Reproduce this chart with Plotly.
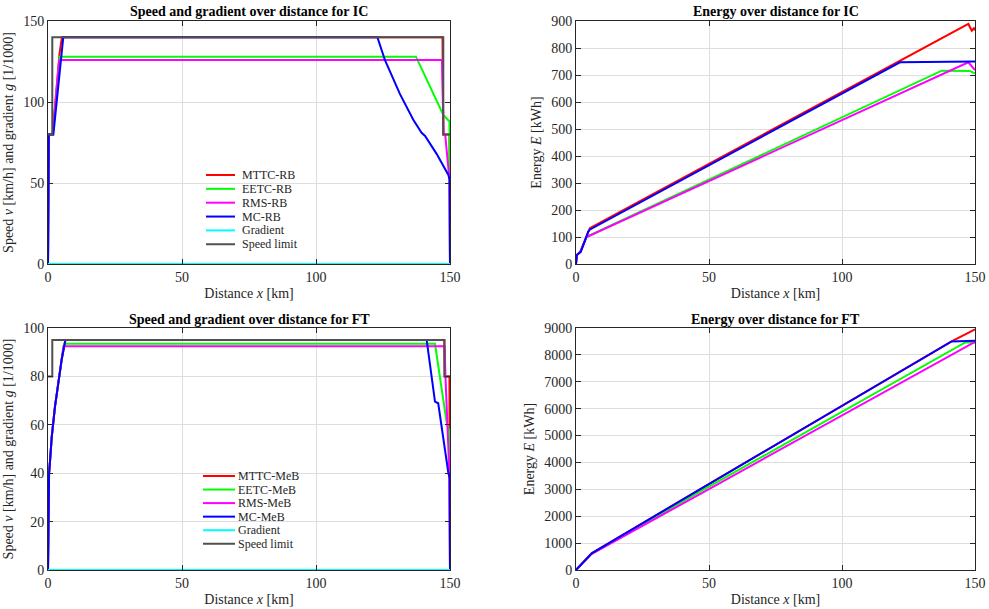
import plotly.graph_objects as go

# ---------------- data ----------------
# IC: speed profiles [km] / [km/h]
ic_lim_x = [0, 1.6, 1.6, 147.5, 147.5, 150]
ic_lim_v = [80, 80, 140, 140, 80, 80]
ic_mttc_x = [0, 0.05, 0.15, 0.3, 1.7, 3.0, 4.3, 5.2, 147.2, 147.5, 149.8, 150]
ic_mttc_v = [0, 40, 62, 80, 80, 108, 130, 140, 140, 80, 80, 0]
ic_eetc_x = [0, 0.05, 0.15, 0.3, 1.8, 3.0, 4.0, 4.3, 137.3, 147.5, 149.8, 150]
ic_eetc_v = [0, 40, 62, 80, 80, 105, 124, 128, 128, 92, 88, 0]
ic_rms_x = [0, 0.05, 0.15, 0.3, 1.8, 3.0, 4.2, 147.0, 147.6, 148.2, 149.8, 150]
ic_rms_v = [0, 40, 62, 80, 80, 105, 126, 126, 80, 80, 52, 0]
ic_mc_x = [0, 0.05, 0.15, 0.3, 2.0, 3.5, 5.0, 5.7, 122.9, 125.7, 131.3, 136.3, 139.4, 140.7, 145.0, 149.4, 149.9, 150]
ic_mc_v = [0, 40, 62, 80, 80, 105, 128, 140, 140, 126, 105, 89, 81, 79, 68, 55, 52, 0]
grad_x = [0, 150]
grad_g = [0, 0]

# IC: energy [kWh]
ic_mttc_ex = [0, 0.3, 1.6, 4.4, 5.2, 147.5, 148.8, 149.6, 150]
ic_mttc_e = [0, 33, 45, 118, 133, 889, 864, 873, 866]
ic_eetc_ex = [0, 0.3, 1.6, 4.0, 137.5, 148.0, 150]
ic_eetc_e = [0, 33, 45, 101, 716, 715, 706]
ic_rms_ex = [0, 0.3, 1.6, 4.0, 147.5, 148.8, 150]
ic_rms_e = [0, 33, 45, 100, 747, 731, 718]
ic_mc_ex = [0, 0.3, 1.8, 4.6, 5.3, 121.8, 140.6, 150]
ic_mc_e = [0, 33, 45, 120, 128, 747, 749, 750]

# FT: speed profiles
ft_lim_x = [0, 1.6, 1.6, 147.9, 147.9, 150]
ft_lim_v = [80, 80, 95, 95, 80, 80]
ft_mttc_x = [0, 0.1, 0.4, 0.75, 1.4, 2.6, 3.8, 5.1, 6.5, 147.9, 148.1, 149.8, 150]
ft_mttc_v = [0, 28, 40, 45, 55, 67.5, 77, 87, 95, 95, 80, 80, 0]
ft_eetc_x = [0, 0.1, 0.4, 0.75, 1.4, 2.6, 3.8, 5.1, 6.0, 144.4, 148.8, 149.9, 150]
ft_eetc_v = [0, 28, 40, 45, 55, 67.5, 77, 87, 93.5, 93.5, 60.6, 57, 0]
ft_rms_x = [0, 0.1, 0.4, 0.75, 1.4, 2.6, 3.8, 5.1, 5.8, 148.0, 148.3, 149.7, 150]
ft_rms_v = [0, 28, 40, 45, 55, 67.5, 77, 87, 92.5, 92.5, 80, 42, 0]
ft_mc_x = [0, 0.1, 0.4, 0.75, 1.4, 2.6, 3.8, 5.1, 6.5, 141.3, 144.4, 145.6, 149.4, 149.9, 150]
ft_mc_v = [0, 28, 40, 45, 55, 67.5, 77, 87, 95, 95, 69.6, 68.9, 40, 38, 0]

# FT: energy
ft_mttc_ex = [0, 5.9, 46.6, 141.2, 150]
ft_mttc_e = [0, 621, 3000, 8500, 8950]
ft_eetc_ex = [0, 5.8, 46.6, 146.5, 150]
ft_eetc_e = [0, 600, 2913, 8470, 8450]
ft_rms_ex = [0, 5.8, 46.6, 150]
ft_rms_e = [0, 590, 2826, 8480]
ft_mc_ex = [0, 5.9, 46.6, 141.2, 150]
ft_mc_e = [0, 621, 3000, 8500, 8530]

ic_names = ["MTTC-RB", "EETC-RB", "RMS-RB", "MC-RB", "Gradient", "Speed limit"]
ft_names = ["MTTC-MeB", "EETC-MeB", "RMS-MeB", "MC-MeB", "Gradient", "Speed limit"]
titles = ["Speed and gradient over distance for IC", "Energy over distance for IC",
          "Speed and gradient over distance for FT", "Energy over distance for FT"]

# ---------------- styling ----------------
W, H = 989, 609
colors = ["#ff0000", "#00ff00", "#ff00ff", "#0000ff", "#00ffff", "#505050"]
FONT = "Liberation Serif, Times New Roman, serif"
TXT = "#262626"

def px(x):
    return x / W

def py(y):
    return 1 - y / H

xdom_left = [px(48), px(450)]
xdom_right = [px(576), px(975)]
ydom_top = [py(264), py(21)]
ydom_bot = [py(570), py(328)]

fig = go.Figure()

def add(xa, ya, x, y, col):
    fig.add_trace(go.Scatter(x=x, y=y, mode="lines", xaxis=xa, yaxis=ya,
                             line=dict(color=col, width=2), showlegend=False,
                             hoverinfo="skip"))

for (x, y), c in zip([(ic_mttc_x, ic_mttc_v), (ic_eetc_x, ic_eetc_v), (ic_rms_x, ic_rms_v),
                      (ic_mc_x, ic_mc_v), (grad_x, grad_g), (ic_lim_x, ic_lim_v)], colors):
    add("x", "y", x, y, c)
for (x, y), c in zip([(ic_mttc_ex, ic_mttc_e), (ic_eetc_ex, ic_eetc_e), (ic_rms_ex, ic_rms_e),
                      (ic_mc_ex, ic_mc_e)], colors):
    add("x2", "y2", x, y, c)
for (x, y), c in zip([(ft_mttc_x, ft_mttc_v), (ft_eetc_x, ft_eetc_v), (ft_rms_x, ft_rms_v),
                      (ft_mc_x, ft_mc_v), (grad_x, grad_g), (ft_lim_x, ft_lim_v)], colors):
    add("x3", "y3", x, y, c)
for (x, y), c in zip([(ft_mttc_ex, ft_mttc_e), (ft_eetc_ex, ft_eetc_e), (ft_rms_ex, ft_rms_e),
                      (ft_mc_ex, ft_mc_e)], colors):
    add("x4", "y4", x, y, c)

def axis_common(title_text, standoff):
    return dict(showline=True, mirror="ticks", linecolor=TXT, linewidth=1,
                ticks="inside", ticklen=5, tickcolor=TXT, showgrid=True,
                gridcolor="#dedede", gridwidth=1, zeroline=False, automargin=False,
                tickfont=dict(family=FONT, size=14, color=TXT),
                title=dict(text=title_text, standoff=standoff,
                           font=dict(family=FONT, size=14, color=TXT)))

xt = "Distance <i>x</i> [km]"
ys = "Speed <i>v</i> [km/h] and gradient <i>g</i> [1/1000]"
ye = "Energy <i>E</i> [kWh]"

lay = dict(width=W, height=H, margin=dict(l=0, r=0, t=0, b=0, autoexpand=False),
           paper_bgcolor="white", plot_bgcolor="white", showlegend=False,
           font=dict(family=FONT, size=14, color=TXT))
for k in ["", "2", "3", "4"]:
    xa = axis_common(xt, 4)
    xa.update(domain=xdom_left if k in ("", "3") else xdom_right, range=[0, 150],
              tickvals=[0, 50, 100, 150], anchor="y" + k)
    ya = axis_common(ys if k in ("", "3") else ye, 6)
    ya.update(domain=ydom_top if k in ("", "2") else ydom_bot, anchor="x" + k)
    if k == "":
        ya.update(range=[0, 150], tickvals=[0, 50, 100, 150])
    elif k == "2":
        ya.update(range=[0, 900], dtick=100)
    elif k == "3":
        ya.update(range=[0, 100], dtick=20)
    else:
        ya.update(range=[0, 9000], dtick=1000)
    lay["xaxis" + k] = xa
    lay["yaxis" + k] = ya

fig.update_layout(**lay)

title_pos = [((48 + 450) / 2, 12), ((576 + 975) / 2, 12), ((48 + 450) / 2, 319), ((576 + 975) / 2, 319)]
for t, (cx, cy) in zip(titles, title_pos):
    fig.add_annotation(text="<b>" + t + "</b>", x=px(cx), y=py(cy), xref="paper", yref="paper",
                       showarrow=False, xanchor="center", yanchor="middle",
                       font=dict(family=FONT, size=14, color="black"))

def legend(names, x0, x1, xt_, y0, dy):
    for j, (n, c) in enumerate(zip(names, colors)):
        yy = y0 + j * dy
        fig.add_shape(type="line", xref="paper", yref="paper", x0=px(x0), x1=px(x1),
                      y0=py(yy), y1=py(yy), line=dict(color=c, width=2))
        fig.add_annotation(text=n, x=px(xt_), y=py(yy), xref="paper", yref="paper",
                           showarrow=False, xanchor="left", yanchor="middle",
                           font=dict(family=FONT, size=12, color=TXT))

legend(ic_names, 206, 235, 240, 175, 13.85)
legend(ft_names, 203, 235, 236, 476, 13.55)

fig.write_html("out.html", config={"displayModeBar": False},
               post_script="document.body.style.margin='0';document.body.style.overflow='hidden';")
